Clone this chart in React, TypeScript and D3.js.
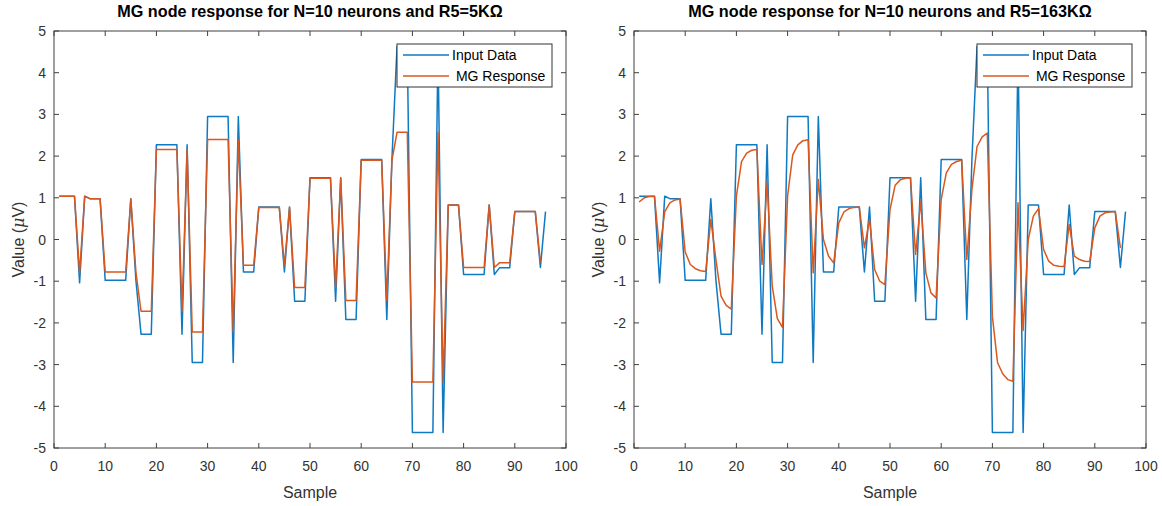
import * as d3 from 'd3';

// Input signal, samples 1..96
const inputData = [
  1.04, 1.04, 1.04, 1.04, -1.04, 1.04, 0.98, 0.98, 0.98, -0.98,
  -0.98, -0.98, -0.98, -0.98, 0.98, -0.98, -2.27, -2.27, -2.27, 2.27,
  2.27, 2.27, 2.27, 2.27, -2.27, 2.27, -2.95, -2.95, -2.95, 2.95,
  2.95, 2.95, 2.95, 2.95, -2.95, 2.95, -0.78, -0.78, -0.78, 0.78,
  0.78, 0.78, 0.78, 0.78, -0.78, 0.78, -1.48, -1.48, -1.48, 1.48,
  1.48, 1.48, 1.48, 1.48, -1.48, 1.48, -1.92, -1.92, -1.92, 1.92,
  1.92, 1.92, 1.92, 1.92, -1.92, 1.92, 4.63, 4.63, 4.63, -4.63,
  -4.63, -4.63, -4.63, -4.63, 4.63, -4.63, 0.83, 0.83, 0.83, -0.84,
  -0.84, -0.84, -0.84, -0.84, 0.83, -0.84, -0.68, -0.68, -0.68, 0.67,
  0.67, 0.67, 0.67, 0.67, -0.67, 0.67,
];

// MG response, R5 = 5 kOhm (samples 1..95)
const response5k = [
  1.04, 1.04, 1.04, 1.04, -0.8, 1.04, 0.98, 0.98, 0.98, -0.78,
  -0.78, -0.78, -0.78, -0.78, 0.97, -0.78, -1.72, -1.72, -1.72, 2.16,
  2.16, 2.16, 2.16, 2.16, -1.72, 2.16, -2.22, -2.22, -2.22, 2.4,
  2.4, 2.4, 2.4, 2.4, -2.22, 2.4, -0.62, -0.62, -0.62, 0.77,
  0.77, 0.77, 0.77, 0.77, -0.62, 0.77, -1.15, -1.15, -1.15, 1.47,
  1.47, 1.47, 1.47, 1.47, -1.15, 1.47, -1.46, -1.46, -1.46, 1.9,
  1.9, 1.9, 1.9, 1.9, -1.46, 1.9, 2.57, 2.57, 2.57, -3.42,
  -3.42, -3.42, -3.42, -3.42, 2.57, -3.42, 0.83, 0.83, 0.83, -0.67,
  -0.67, -0.67, -0.67, -0.67, 0.83, -0.67, -0.56, -0.56, -0.56, 0.67,
  0.67, 0.67, 0.67, 0.67, -0.55,
];

// MG response, R5 = 163 kOhm (samples 1..95)
const response163k = [
  0.9, 1.0, 1.03, 1.04, -0.28, 0.66, 0.88, 0.95, 0.97, -0.3,
  -0.6, -0.7, -0.75, -0.77, 0.48, -0.48, -1.36, -1.58, -1.67, 1.04,
  1.87, 2.07, 2.14, 2.16, -0.6, 1.38, -1.12, -1.9, -2.11, 1.04,
  2.03, 2.27, 2.37, 2.39, -0.8, 1.44, 0.0, -0.4, -0.56, 0.4,
  0.66, 0.74, 0.77, 0.78, -0.2, 0.48, -0.72, -1.0, -1.08, 0.72,
  1.3, 1.43, 1.47, 1.48, -0.36, 0.92, -0.8, -1.28, -1.4, 0.96,
  1.6, 1.8, 1.87, 1.9, -0.48, 1.2, 2.23, 2.46, 2.55, -1.85,
  -2.95, -3.22, -3.36, -3.4, 0.88, -2.18, 0.0, 0.56, 0.74, -0.24,
  -0.52, -0.62, -0.64, -0.65, 0.36, -0.4, -0.48, -0.52, -0.53, 0.28,
  0.56, 0.64, 0.66, 0.67, -0.2,
];

const xTicks = [0, 10, 20, 30, 40, 50, 60, 70, 80, 90, 100];
const yTicks = [-5, -4, -3, -2, -1, 0, 1, 2, 3, 4, 5];
const titles = [
  'MG node response for N=10 neurons and R5=5K\u03A9',
  'MG node response for N=10 neurons and R5=163K\u03A9',
];
const legendLabels = ['Input Data', ' MG Response'];

const BLUE = '#0f79c2';
const ORANGE = '#d9581f';
const AXIS = '#404040';
const FONT = 'Liberation Sans, Arial, Helvetica, sans-serif';

const top = 31;
const bottom = 448;
const plotW = 512;

function Panel({ left, title, response }: { left: number; title: string; response: number[] }) {
  const x = d3.scaleLinear().domain([0, 100]).range([left, left + plotW]);
  const y = d3.scaleLinear().domain([-5, 5]).range([bottom, top]);
  const line = d3.line<number>().x((_, i) => x(i + 1)).y(d => y(d));
  const right = left + plotW;
  const cx = left + plotW / 2;
  const lgX = right - 169;
  const lgY = 44;

  return (
    <g>
      <text x={cx} y={17} textAnchor="middle" fontFamily={FONT} fontWeight="bold" fontSize={16.2} fill="#000">
        {title}
      </text>

      <path d={line(inputData) ?? ''} fill="none" stroke={BLUE} strokeWidth={1.5} strokeLinejoin="round" />
      <path d={line(response) ?? ''} fill="none" stroke={ORANGE} strokeWidth={1.5} strokeLinejoin="round" />

      {/* box */}
      <rect x={left} y={top} width={plotW} height={bottom - top} fill="none" stroke={AXIS} strokeWidth={1} />

      {xTicks.map(t => (
        <g key={'x' + t}>
          <line x1={x(t)} x2={x(t)} y1={bottom} y2={bottom - 5} stroke={AXIS} />
          <line x1={x(t)} x2={x(t)} y1={top} y2={top + 5} stroke={AXIS} />
          <text x={x(t)} y={471} textAnchor="middle" fontFamily={FONT} fontSize={14} fill="#333">{t}</text>
        </g>
      ))}
      {yTicks.map(t => (
        <g key={'y' + t}>
          <line x1={left} x2={left + 5} y1={y(t)} y2={y(t)} stroke={AXIS} />
          <line x1={right} x2={right - 5} y1={y(t)} y2={y(t)} stroke={AXIS} />
          <text x={left - 8} y={y(t) + 5} textAnchor="end" fontFamily={FONT} fontSize={14} fill="#333">{t}</text>
        </g>
      ))}

      <text x={cx} y={498} textAnchor="middle" fontFamily={FONT} fontSize={16} fill="#333">Sample</text>
      <text
        transform={`translate(${left - 30},${(top + bottom) / 2}) rotate(-90)`}
        textAnchor="middle"
        fontFamily={FONT}
        fontSize={16}
        fill="#333"
      >
        Value (<tspan fontStyle="italic" fontFamily="DejaVu Serif, serif">{'\u03BC'}</tspan>V)
      </text>

      {/* legend */}
      <rect x={lgX} y={lgY} width={155} height={43} fill="#fff" stroke="#333" strokeWidth={1} />
      {legendLabels.map((lab, i) => (
        <g key={lab}>
          <line x1={lgX + 6} x2={lgX + 52} y1={lgY + 11 + i * 21} y2={lgY + 11 + i * 21} stroke={i === 0 ? BLUE : ORANGE} strokeWidth={1.5} />
          <text x={lgX + 55} y={lgY + 16 + i * 21} fontFamily={FONT} fontSize={14} fill="#000" style={{ whiteSpace: 'pre' }}>
            {lab}
          </text>
        </g>
      ))}
    </g>
  );
}

export default function App() {
  return (
    <svg width={1162} height={506} style={{ position: 'absolute', left: 0, top: 0, background: '#fff' }}>
      <rect width={1162} height={506} fill="#fff" />
      <Panel left={54} title={titles[0]} response={response5k} />
      <Panel left={634} title={titles[1]} response={response163k} />
    </svg>
  );
}
